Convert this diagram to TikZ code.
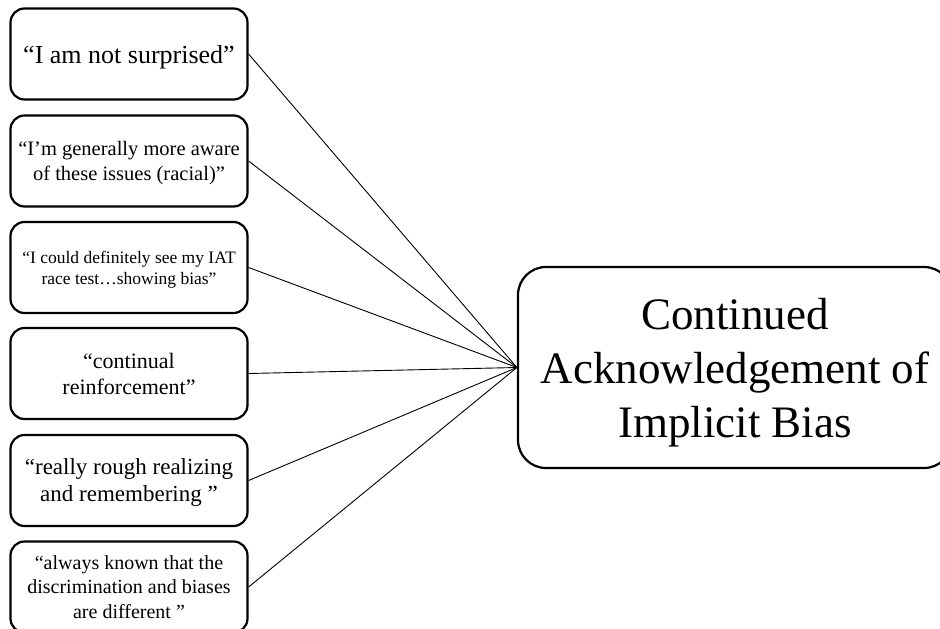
\documentclass[tikz,border=0pt]{standalone}
\usepackage{fontspec}
\setmainfont{Liberation Serif}
\begin{document}
\begin{tikzpicture}[x=1pt,y=-1pt,
  quote/.style={draw=black, line width=2.2pt, rounded corners=14pt,
    minimum width=237pt, minimum height=91pt, align=center,
    inner sep=2pt, text depth=0pt, fill=white},
  theme/.style={draw=black, line width=2.2pt, rounded corners=28pt,
    minimum width=434pt, minimum height=201pt, align=center,
    inner sep=2pt, text depth=0pt},
  fs/.style 2 args={font=\fontsize{#1}{#2}\selectfont},
  link/.style={draw=black, line width=0.9pt}]
\useasboundingbox (0,0) rectangle (940,629);

% quotation boxes down the left side
\node[quote, fs={26}{31}] (q1) at (129,54)
  {“I am not surprised”};
\node[quote, fs={20.5}{24.5}] (q2) at (129,161)
  {“I’m generally more aware\\of these issues (racial)”};
\node[quote, fs={17.5}{21}] (q3) at (129,267.5)
  {“I could definitely see my IAT\\race test…showing bias”};
\node[quote, fs={22}{26}] (q4) at (129,373.5)
  {“continual\\reinforcement”};
\node[quote, fs={23}{27}] (q5) at (129,480.5)
  {“really rough realizing\\and remembering ”};
\node[quote, fs={20}{24.2}] (q6) at (129,587)
  {“always known that the\\discrimination and biases\\are different ”};

% central theme box on the right
\node[theme, fs={45}{54}] (t) at (735,367.5)
  {Continued\\Acknowledgement of\\Implicit Bias};

% connectors from every quote to the theme
\foreach \q in {q1,q2,q3,q4,q5,q6}
  \draw[link] (\q.east) -- (t.west);
\end{tikzpicture}
\end{document}
